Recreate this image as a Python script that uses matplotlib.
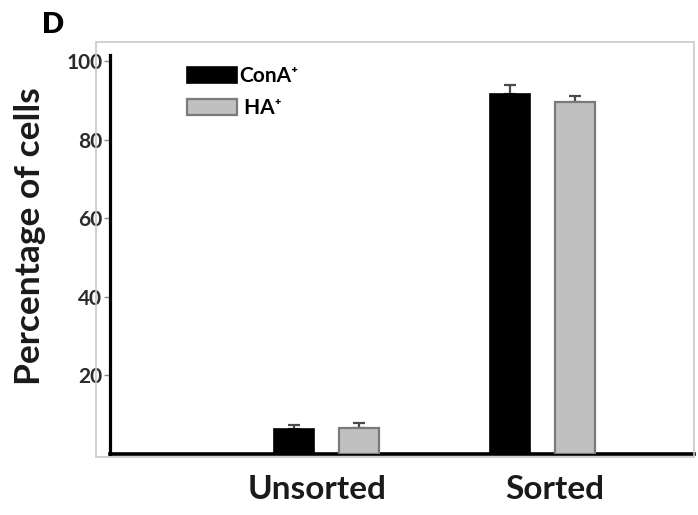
import numpy as np
import matplotlib
matplotlib.use("Agg")
import matplotlib.pyplot as plt
from matplotlib.patches import Rectangle

# ---------------------------------------------------------------------------
# Data
# ---------------------------------------------------------------------------
groups = ["Unsorted", "Sorted"]
series_names = ["ConA\u207a", " HA\u207a"]
cona_vals = [6.4, 91.6]
cona_err = [1.0, 2.3]
ha_vals = [6.6, 89.6]
ha_err = [1.3, 1.5]
yticks = [20, 40, 60, 80, 100]

FONT = ["Lato", "DejaVu Sans"]
W, H = 698, 515

fig = plt.figure(figsize=(W / 100, H / 100), dpi=100)

# light grey frame around the plot region
fig.patches.append(Rectangle((96 / W, 1 - 457 / H), (694 - 96) / W, (457 - 42) / H,
                             transform=fig.transFigure, fill=False,
                             edgecolor="#c8c8c8", lw=1.2, zorder=0))

ax = fig.add_axes([110 / W, 1 - 454 / H, (694 - 110) / W, (454 - 55) / H])
ax.patch.set_alpha(0)

x = np.arange(len(groups))
off, bw = 0.15, 0.185
ax.bar(x - off, cona_vals, bw, color="black", edgecolor="black", lw=1.2,
       label=series_names[0], zorder=3)
ax.bar(x + off, ha_vals, bw, color="#c0c0c0", edgecolor="#7a7a7a", lw=1.6,
       label=series_names[1], zorder=3)
ax.errorbar(x - off, cona_vals, yerr=[np.zeros(2), cona_err], fmt="none",
            ecolor="#4a4a4a", elinewidth=1.6, capsize=4.5, capthick=1.6, zorder=2)
ax.errorbar(x + off, ha_vals, yerr=[np.zeros(2), ha_err], fmt="none",
            ecolor="#4a4a4a", elinewidth=1.6, capsize=4.5, capthick=1.6, zorder=2)

ax.set_xlim(-1.002, 1.70)
ax.set_ylim(0, 101.5)

for s in ["top", "right"]:
    ax.spines[s].set_visible(False)
ax.spines["left"].set_linewidth(2.3)
ax.spines["bottom"].set_linewidth(2.6)

ax.set_yticks(yticks)
ax.set_yticklabels([str(v) for v in yticks], family=FONT, fontweight="bold",
                   fontsize=15, color="#2b2b2b")
ax.tick_params(axis="y", length=4, width=1, color="#8a8a8a", pad=1.5)
ax.set_xticks([])

# group labels (slightly offset from group centres, as in the original)
label_x = [-0.045, 1.055]
for lx, g in zip(label_x, groups):
    ax.text(lx, -0.09, g, transform=ax.get_xaxis_transform(), ha="center",
            va="center", family=FONT, fontweight="bold", fontsize=24,
            color="#1a1a1a")

fig.text(30 / W, 1 - 236 / H, "Percentage of cells", rotation=90, ha="center",
         va="center", family=FONT, fontweight="bold", fontsize=25.5, color="#1a1a1a")

fig.text(42 / W, 1 - 25 / H, "D", ha="left", va="center", family=FONT,
         fontweight="heavy", fontsize=21, color="black")

leg = fig.legend(loc="upper left", bbox_to_anchor=(187 / W, 1 - 66 / H),
                 frameon=False, borderpad=0, borderaxespad=0,
                 handlelength=2.4, handleheight=0.82, handletextpad=0.1,
                 labelspacing=0.6, prop={"family": FONT, "weight": "bold", "size": 15})

fig.savefig("out.png", dpi=100)
